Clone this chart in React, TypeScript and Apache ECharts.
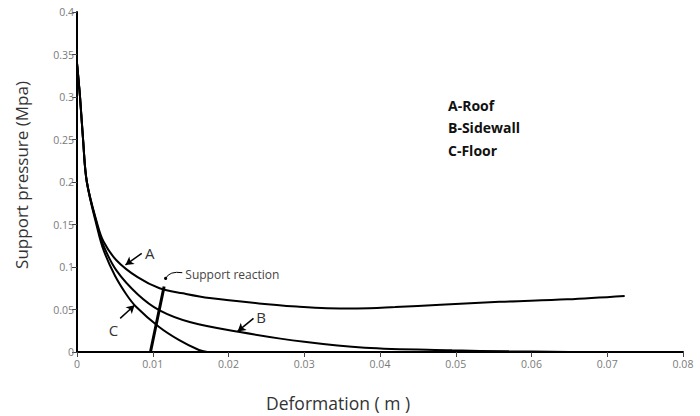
import React, { useEffect, useRef } from "react";
import * as echarts from "echarts";

// Deformation (m) vs support pressure (MPa)
const roofX = [0, 0.0004, 0.0008, 0.0013, 0.0027, 0.0035, 0.0052, 0.008, 0.0109, 0.014, 0.0175, 0.024, 0.029, 0.033, 0.037, 0.042, 0.048, 0.0558, 0.0647, 0.0723];
const roofY = [0.34, 0.3, 0.25, 0.2, 0.15, 0.13, 0.108, 0.088, 0.075, 0.069, 0.0635, 0.0572, 0.0535, 0.0515, 0.0512, 0.0528, 0.0555, 0.059, 0.062, 0.066];

const sideX = [0, 0.0004, 0.0008, 0.0013, 0.0027, 0.0035, 0.0052, 0.008, 0.0109, 0.015, 0.0215, 0.03, 0.038, 0.0495, 0.057, 0.065];
const sideY = [0.34, 0.3, 0.25, 0.2, 0.148, 0.125, 0.096, 0.068, 0.049, 0.035, 0.0235, 0.012, 0.005, 0.002, 0.0008, 0];

const floorX = [0, 0.0004, 0.0008, 0.0013, 0.0027, 0.0035, 0.005, 0.0065, 0.0078, 0.0108, 0.0135, 0.0161, 0.0172];
const floorY = [0.34, 0.3, 0.25, 0.2, 0.145, 0.12, 0.09, 0.068, 0.0533, 0.0298, 0.014, 0.0024, 0];

const reactionX = [0.0097, 0.0115];
const reactionY = [0, 0.077];

const xTickLabels = ["0", "0.01", "0.02", "0.03", "0.04", "0.05", "0.06", "0.07", "0.08"];
const yTickLabels = ["0", "0.05", "0.1", "0.15", "0.2", "0.25", "0.3", "0.35", "0.4"];

const legendLines = ["A-Roof", "B-Sidewall", "C-Floor"];

// annotation arrows [fromX, fromY, toX, toY] and label anchors in data units
const arrowA = [0.00854, 0.116, 0.0064, 0.1024];
const arrowB = [0.0233, 0.0396, 0.0212, 0.0242];
const arrowC = [0.0057, 0.0396, 0.0076, 0.055];
const labelA = { text: "A", x: 0.0096, y: 0.1165 };
const labelB = { text: "B", x: 0.0243, y: 0.0415 };
const labelC = { text: "C", x: 0.0048, y: 0.026 };
const reactionNote = { text: "Support reaction", x: 0.0143, y: 0.0917 };
const reactionLeader = [0.0117, 0.0866, 0.0139, 0.0933];

const FONT = "'Open Sans', 'Noto Sans', sans-serif";

function pairs(xs: number[], ys: number[]) {
  return xs.map((x, i) => [x, ys[i]]);
}

export default function App() {
  const ref = useRef<HTMLDivElement>(null);

  useEffect(() => {
    if (!ref.current) return;
    const chart = echarts.init(ref.current, undefined, { renderer: "svg" });

    const lineSeries = (name: string, data: number[][], width = 2) => ({
      name,
      type: "line",
      data,
      smooth: 0.35,
      symbol: "none",
      lineStyle: { color: "#000", width },
      silent: true,
    });

    const arrow = (a: number[]) => [
      { coord: [a[0], a[1]] },
      { coord: [a[2], a[3]] },
    ];

    chart.setOption({
      animation: false,
      backgroundColor: "#fff",
      grid: { left: 77, right: 17, top: 12, bottom: 64 },
      xAxis: {
        type: "value",
        min: 0,
        max: 0.08,
        interval: 0.01,
        axisLine: { show: true, lineStyle: { color: "#000", width: 2 } },
        axisTick: { show: true, length: 5, lineStyle: { color: "#444", width: 1 } },
        splitLine: { show: false },
        axisLabel: {
          color: "#7a7a7a",
          fontSize: 10.5,
          fontFamily: FONT,
          margin: 6,
          formatter: (v: number) => xTickLabels[Math.round(v / 0.01)] ?? "",
        },
      },
      yAxis: {
        type: "value",
        min: 0,
        max: 0.4,
        interval: 0.05,
        axisLine: { show: true, lineStyle: { color: "#000", width: 2 } },
        axisTick: { show: true, length: 5, lineStyle: { color: "#444", width: 1 } },
        splitLine: { show: false },
        axisLabel: {
          color: "#7a7a7a",
          fontSize: 10.5,
          fontFamily: FONT,
          margin: 3,
          formatter: (v: number) => yTickLabels[Math.round(v / 0.05)] ?? "",
        },
      },
      series: [
        {
          ...lineSeries("A-Roof", pairs(roofX, roofY)),
          markLine: {
            silent: true,
            symbol: ["none", "arrow"],
            symbolSize: [7, 8],
            label: { show: false },
            lineStyle: { color: "#000", width: 1.5, type: "solid" },
            data: [arrow(arrowA), arrow(arrowB), arrow(arrowC)],
          },
        },
        lineSeries("B-Sidewall", pairs(sideX, sideY)),
        lineSeries("C-Floor", pairs(floorX, floorY)),
        {
          name: "Support reaction",
          type: "line",
          data: pairs(reactionX, reactionY),
          symbol: "none",
          lineStyle: { color: "#000", width: 3 },
          silent: true,
        },
      ],
    });

    const px = (x: number, y: number) =>
      chart.convertToPixel({ xAxisIndex: 0, yAxisIndex: 0 }, [x, y]) as number[];

    const letter = (l: { text: string; x: number; y: number }) => {
      const p = px(l.x, l.y);
      return {
        type: "text",
        x: p[0],
        y: p[1],
        style: {
          text: l.text,
          fill: "#333",
          font: `15px ${FONT}`,
          textAlign: "center",
          textVerticalAlign: "middle",
        },
      };
    };

    const rn = px(reactionNote.x, reactionNote.y);
    const l0 = px(reactionLeader[0], reactionLeader[1]);
    const l1 = px(reactionLeader[2], reactionLeader[3]);

    chart.setOption({
      graphic: [
        letter(labelA),
        letter(labelB),
        letter(labelC),
        {
          type: "text",
          x: rn[0],
          y: rn[1],
          style: {
            text: reactionNote.text,
            fill: "#444",
            font: `12px ${FONT}`,
            textAlign: "left",
            textVerticalAlign: "middle",
          },
        },
        {
          type: "bezierCurve",
          shape: {
            x1: l0[0],
            y1: l0[1],
            x2: l1[0],
            y2: l1[1],
            cpx1: l0[0] + 4,
            cpy1: l1[1] - 2,
          },
          style: { stroke: "#000", lineWidth: 1, fill: "none" },
        },
        {
          type: "circle",
          shape: { cx: l0[0], cy: l0[1], r: 1.6 },
          style: { fill: "#000" },
        },
        ...legendLines.map((t, i) => ({
          type: "text",
          x: 448,
          y: 105 + i * 22.5,
          style: {
            text: t,
            fill: "#111",
            font: `bold 14px ${FONT}`,
            textAlign: "left",
            textVerticalAlign: "middle",
          },
        })),
        {
          type: "text",
          x: 21,
          y: 175,
          rotation: Math.PI / 2,
          style: {
            text: "Support pressure (Mpa)",
            fill: "#333",
            font: `17px ${FONT}`,
            textAlign: "center",
            textVerticalAlign: "middle",
          },
        },
        {
          type: "text",
          x: 338,
          y: 403,
          style: {
            text: "Deformation ( m )",
            fill: "#333",
            font: `17.5px ${FONT}`,
            textAlign: "center",
            textVerticalAlign: "middle",
          },
        },
      ],
    });

    return () => chart.dispose();
  }, []);

  return (
    <div
      ref={ref}
      style={{ position: "fixed", left: 0, top: 0, width: 700, height: 416 }}
    />
  );
}
